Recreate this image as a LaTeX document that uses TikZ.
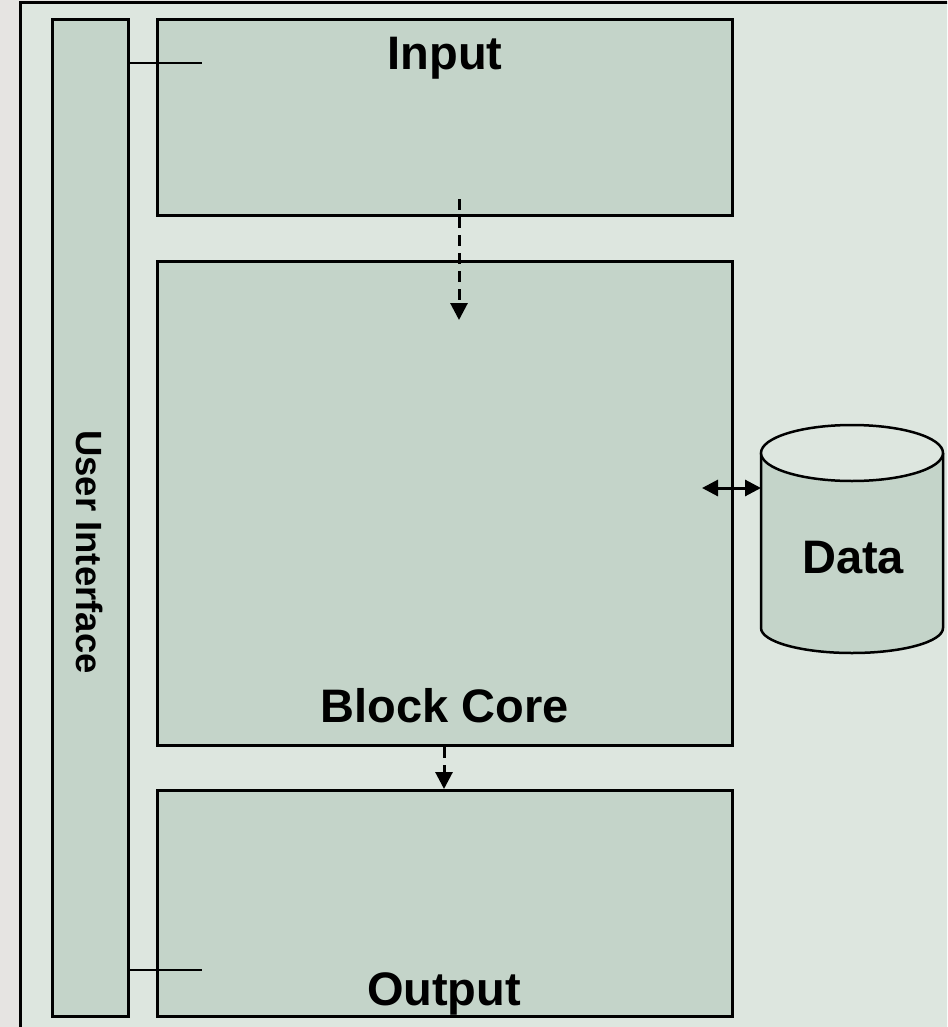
\documentclass[tikz,border=0pt]{standalone}
\usepackage{fontspec}
\setmainfont{Liberation Sans}
\usetikzlibrary{arrows.meta}
\definecolor{pagegrey}{HTML}{E6E4E2}
\definecolor{panelbg}{HTML}{DDE6DF}
\definecolor{boxfill}{HTML}{C4D4C9}
\tikzset{
  block/.style={draw=black, line width=3pt, fill=boxfill, inner sep=0pt, anchor=north west},
  title/.style={font=\fontsize{47}{56}\selectfont\bfseries, inner sep=0pt, anchor=base},
  flow/.style={line width=3pt, dash pattern=on 11pt off 7pt, -{Triangle[width=17pt,length=17pt]}},
  link/.style={line width=2pt},
  access/.style={line width=3pt, {Triangle[width=16pt,length=16pt]}-{Triangle[width=16pt,length=16pt]}}
}
\begin{document}
\begin{tikzpicture}[x=1pt,y=-1pt]
  \useasboundingbox (0,0) rectangle (947,1027);
  \fill[pagegrey] (0,0) rectangle (947,1027);
  % outer panel, running off the right and bottom edges
  \begin{scope}
    \clip (0,0) rectangle (947,1027);
    \draw[line width=3pt, fill=panelbg] (20,3) rectangle (970,1050);
  \end{scope}

  % blocks
  \node[block, minimum width=76pt, minimum height=997pt] (ui) at (51,18) {};
  \node[block, minimum width=575pt, minimum height=196pt] (input) at (156,18) {};
  \node[block, minimum width=575pt, minimum height=484pt] (core) at (156,260) {};
  \node[block, minimum width=575pt, minimum height=226pt] (output) at (156,789) {};

  % labels
  \node[font=\fontsize{36.5}{44}\selectfont\bfseries, rotate=-90, inner sep=0pt] (uilabel) at (90,552) {User Interface};
  \node[title] (inputlabel) at (445,70) {Input};
  \node[title] (corelabel) at (445,722) {Block Core};
  \node[title] (outputlabel) at (444,1005) {Output};

  % data store
  \fill[boxfill] (761,453) -- (761,628) arc[start angle=180, end angle=360, x radius=91, y radius=-25] -- (943,453) -- cycle;
  \draw[line width=2.5pt] (761,453) -- (761,628) arc[start angle=180, end angle=360, x radius=91, y radius=-25] -- (943,453);
  \draw[line width=2.5pt, fill=panelbg] (852,453) ellipse[x radius=91, y radius=28];
  \node[title] (data) at (853,573) {Data};
  \coordinate (dataport) at (761,488);
  \coordinate (coreport) at (702,488);

  % user interface taps
  \coordinate (intap) at (202,63);
  \coordinate (outtap) at (202,970);
  \draw[link] (ui.east |- intap) -- (intap);
  \draw[link] (ui.east |- outtap) -- (outtap);

  % flow between blocks
  \coordinate (infrom) at (459,199);
  \coordinate (into) at (459,320);
  \draw[flow] (infrom) -- (into);
  \draw[flow] (core.south -| 444,0) -- (output.north -| 444,0);
  \draw[access] (coreport) -- (dataport);
\end{tikzpicture}
\end{document}
